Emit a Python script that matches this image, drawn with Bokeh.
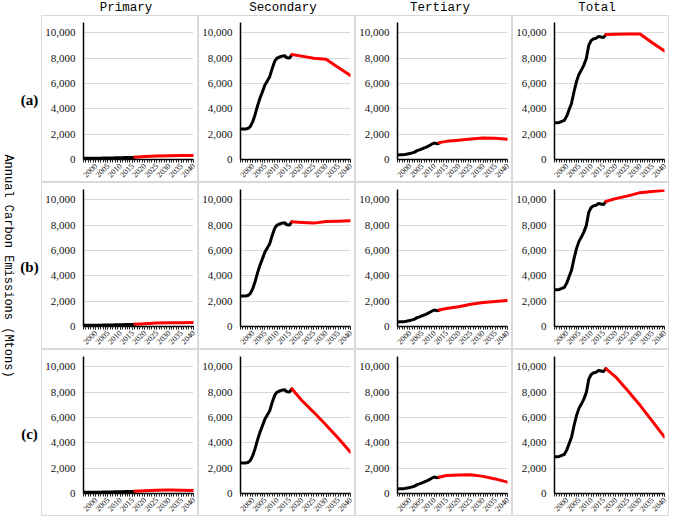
import math
from bokeh.plotting import figure
from bokeh.layouts import row, column
from bokeh.models import FixedTicker, NumeralTickFormatter, Label, Range1d
from bokeh.embed import file_html
from bokeh.resources import INLINE

# ---------------- data ----------------
sectors = ["Primary", "Secondary", "Tertiary", "Total"]
scenarios = ["(a)", "(b)", "(c)"]
y_label = "Annual Carbon Emissions (Mtons)"

x_tick_labels = ["2000", "2005", "2010", "2015", "2020", "2025", "2030", "2035", "2040"]
y_ticks = [0, 2000, 4000, 6000, 8000, 10000]

hist_years = list(range(1995, 2017))
tert_hist_years = list(range(1995, 2013))
proj_years = [2016, 2020, 2025, 2030, 2035, 2040]
tert_proj_years = [2012, 2015, 2020, 2025, 2030, 2035, 2040]

primary_hist = [90, 92, 95, 95, 95, 100, 100, 105, 110, 115, 120, 120, 125, 130,
                135, 140, 145, 150, 150, 155, 160, 170]
secondary_hist = [2400, 2400, 2410, 2440, 2590, 2980, 3550, 4250, 4850, 5350, 5880,
                  6200, 6550, 7200, 7750, 8000, 8080, 8150, 8180, 8020, 8000, 8250]
tertiary_hist = [360, 370, 380, 400, 430, 470, 520, 580, 700, 760, 840, 920, 1000,
                 1100, 1200, 1300, 1250, 1280]
total_hist = [2900, 2900, 2920, 3000, 3080, 3420, 3940, 4460, 5360, 6140, 6710, 7050,
              7440, 7950, 8990, 9380, 9510, 9560, 9690, 9660, 9610, 9840]

primary_proj_a = [170, 230, 280, 300, 310, 310]
primary_proj_b = [170, 220, 270, 290, 300, 310]
primary_proj_c = [170, 220, 260, 270, 260, 240]

secondary_proj_a = [8280, 8150, 7980, 7900, 7250, 6630]
secondary_proj_b = [8250, 8200, 8150, 8270, 8300, 8340]
secondary_proj_c = [8250, 7350, 6400, 5400, 4350, 3250]

tertiary_proj_a = [1330, 1430, 1520, 1620, 1700, 1680, 1600]
tertiary_proj_b = [1300, 1420, 1560, 1760, 1900, 1980, 2050]
tertiary_proj_c = [1280, 1420, 1460, 1480, 1350, 1150, 900]

total_proj_a = [9850, 9880, 9900, 9900, 9200, 8550]
total_proj_b = [9850, 10080, 10300, 10550, 10650, 10750]
total_proj_c = [9850, 9200, 8100, 6950, 5700, 4450]

# ---------------- layout constants ----------------
LEFT_W = 41
PW, PH = 157, 167
TITLE_H = 15
TOTAL_H = TITLE_H + 3 * PH

TITLE_FONT = "Liberation Mono"
TICK_FONT = "Liberation Serif"
BORDER = "#d9d9d9"

x_ticks = [int(t) for t in x_tick_labels]


def panel(hx, hy, px, py):
    p = figure(width=PW, height=PH, x_range=Range1d(1995, 2040), y_range=Range1d(0, 10800),
               toolbar_location=None, output_backend="svg",
               min_border_left=40, min_border_right=6, min_border_top=6, min_border_bottom=21,
               styles={"border": "1px solid " + BORDER, "box-sizing": "border-box"})
    p.line(hx, hy, color="black", line_width=3, line_join="round", line_cap="round")
    p.line(px, py, color="#ff0000", line_width=3, line_join="round", line_cap="round")
    p.outline_line_color = None
    p.xgrid.visible = False
    p.ygrid.ticker = FixedTicker(ticks=y_ticks[1:])
    p.ygrid.grid_line_color = BORDER
    p.ygrid.grid_line_width = 1

    xa = p.xaxis[0]
    xa.ticker = FixedTicker(ticks=x_ticks, minor_ticks=list(range(1995, 2041)))
    xa.major_label_overrides = {t: s for t, s in zip(x_ticks, x_tick_labels)}
    xa.major_label_orientation = math.pi / 4
    xa.major_label_text_font = TICK_FONT
    xa.major_label_text_font_size = "8px"
    xa.major_label_text_color = "#111111"
    xa.major_label_standoff = 2
    xa.major_tick_in = 0
    xa.major_tick_out = 3
    xa.minor_tick_in = 0
    xa.minor_tick_out = 3
    xa.major_tick_line_color = "#222222"
    xa.minor_tick_line_color = "#222222"
    xa.axis_line_color = "#000000"
    xa.axis_line_width = 1.5

    ya = p.yaxis[0]
    ya.ticker = FixedTicker(ticks=y_ticks)
    ya.formatter = NumeralTickFormatter(format="0,0")
    ya.major_label_text_font = TICK_FONT
    ya.major_label_text_font_size = "11px"
    ya.major_label_text_color = "#111111"
    ya.major_label_standoff = 8
    ya.major_tick_in = 0
    ya.major_tick_out = 0
    ya.minor_tick_line_color = None
    ya.axis_line_color = "#000000"
    ya.axis_line_width = 1.5
    return p


def text_fig(w, h):
    f = figure(width=w, height=h, x_range=Range1d(0, w), y_range=Range1d(0, h),
               toolbar_location=None, output_backend="svg",
               x_axis_location=None, y_axis_location=None, min_border=0)
    f.outline_line_color = None
    f.xgrid.visible = False
    f.ygrid.visible = False
    return f


# left strip
left = text_fig(LEFT_W, TOTAL_H)
left.add_layout(Label(x=7, y=(3 * PH) / 2, text=y_label, angle=-math.pi / 2,
                      text_align="center", text_baseline="middle",
                      text_font=TITLE_FONT, text_font_size="12px", text_color="#000000"))
for i, s in enumerate(scenarios):
    left.add_layout(Label(x=29, y=3 * PH - (i * PH + PH / 2 + 1), text=s,
                          text_align="center", text_baseline="middle",
                          text_font=TICK_FONT, text_font_size="15px",
                          text_font_style="bold", text_color="#000000"))

# title row
title_figs = []
for s in sectors:
    t = text_fig(PW, TITLE_H)
    t.add_layout(Label(x=PW / 2 + 6, y=TITLE_H / 2, text=s, text_align="center",
                       text_baseline="middle", text_font=TITLE_FONT, text_font_size="12.5px",
                       text_color="#000000"))
    title_figs.append(t)

hist_sets = [(hist_years, primary_hist), (hist_years, secondary_hist),
             (tert_hist_years, tertiary_hist), (hist_years, total_hist)]
proj_sets = [
    [primary_proj_a, secondary_proj_a, tertiary_proj_a, total_proj_a],
    [primary_proj_b, secondary_proj_b, tertiary_proj_b, total_proj_b],
    [primary_proj_c, secondary_proj_c, tertiary_proj_c, total_proj_c],
]

rows = [row(*title_figs, spacing=0)]
for r in range(3):
    figs = []
    for c in range(4):
        hx, hy = hist_sets[c]
        px = tert_proj_years if c == 2 else proj_years
        figs.append(panel(hx, hy, px, proj_sets[r][c]))
    rows.append(row(*figs, spacing=0))

grid = column(*rows, spacing=0)
layout = row(left, grid, spacing=0)

open("out.html", "w").write(file_html(layout, INLINE))
